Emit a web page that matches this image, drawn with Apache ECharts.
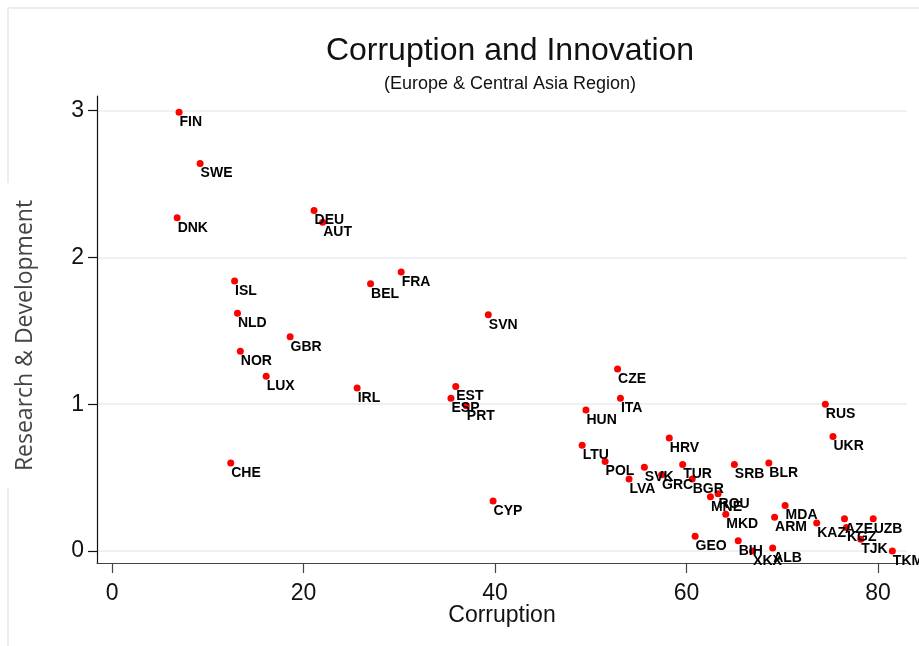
<!DOCTYPE html>
<html>
<head>
<meta charset="utf-8">
<title>Corruption and Innovation</title>
<script src="https://cdn.jsdelivr.net/npm/echarts@6/dist/echarts.min.js"></script>
<style>
  html, body { margin: 0; padding: 0; background: #fff; }
  #chart { width: 919px; height: 646px; }
</style>
</head>
<body>
<div id="chart"></div>
<script>
// Country codes (ISO3) for the Europe & Central Asia region
const countries = [
  'FIN','SWE','DNK','DEU','AUT','ISL','BEL','FRA','NLD','SVN',
  'GBR','NOR','LUX','IRL','EST','ESP','PRT','CHE','CYP','CZE',
  'ITA','HUN','RUS','UKR','LTU','HRV','POL','SVK','TUR','SRB',
  'BLR','LVA','GRC','BGR','ROU','MNE','MKD','GEO','BIH','XKX',
  'ALB','MDA','ARM','KAZ','AZE','UZB','KGZ','TJK','TKM'
];
// Corruption score (x)
const corruption = [
  7.0, 9.2, 6.8, 21.1, 22.0, 12.8, 27.0, 30.2, 13.1, 39.3,
  18.6, 13.4, 16.1, 25.6, 35.9, 35.4, 37.0, 12.4, 39.8, 52.8,
  53.1, 49.5, 74.5, 75.3, 49.1, 58.2, 51.5, 55.6, 59.6, 65.0,
  68.6, 54.0, 57.4, 60.6, 63.3, 62.5, 64.1, 60.9, 65.4, 66.9,
  69.0, 70.3, 69.2, 73.6, 76.5, 79.5, 76.7, 78.2, 81.5
];
// Research & Development expenditure (y)
const research = [
  2.99, 2.64, 2.27, 2.32, 2.24, 1.84, 1.82, 1.90, 1.62, 1.61,
  1.46, 1.36, 1.19, 1.11, 1.12, 1.04, 0.99, 0.60, 0.34, 1.24,
  1.04, 0.96, 1.00, 0.78, 0.72, 0.77, 0.61, 0.57, 0.59, 0.59,
  0.60, 0.49, 0.52, 0.49, 0.39, 0.37, 0.25, 0.10, 0.07, 0.00,
  0.02, 0.31, 0.23, 0.19, 0.22, 0.22, 0.16, 0.08, 0.00
];
// Axis tick values
const xTicks = [0, 20, 40, 60, 80];
const yTicks = [0, 1, 2, 3];

const points = countries.map((c, i) => ({ name: c, value: [corruption[i], research[i]] }));

const chart = echarts.init(document.getElementById('chart'), null, { renderer: 'canvas' });

const gridColor = '#e5edf0';
const frameColor = '#e8eef1';

chart.setOption({
  animation: false,
  backgroundColor: '#ffffff',
  title: [
    {
      text: 'Corruption and Innovation',
      left: 505, top: 30, textAlign: 'center',
      textStyle: { fontFamily: 'Liberation Sans', fontSize: 32, fontWeight: 'normal', color: '#111' }
    },
    {
      text: '(Europe & Central Asia Region)',
      left: 505, top: 70, textAlign: 'center',
      textStyle: { fontFamily: 'Liberation Sans', fontSize: 18, fontWeight: 'normal', color: '#111' }
    }
  ],
  graphic: [
    { type: 'line', silent: true, shape: { x1: 8, y1: 8, x2: 919, y2: 8 }, style: { stroke: frameColor, lineWidth: 2 } },
    { type: 'line', silent: true, shape: { x1: 8, y1: 8, x2: 8, y2: 183 }, style: { stroke: frameColor, lineWidth: 2 } },
    { type: 'line', silent: true, shape: { x1: 8, y1: 488, x2: 8, y2: 646 }, style: { stroke: frameColor, lineWidth: 2 } }
  ],
  grid: { left: 97, right: 12, top: 96, bottom: 83, containLabel: false },
  xAxis: {
    type: 'value',
    min: -1.57, max: 83.03,
    name: 'Corruption',
    nameLocation: 'middle',
    nameGap: 41,
    nameMoveOverlap: false,
    nameTextStyle: { fontFamily: 'Liberation Sans', fontSize: 23, color: '#111' },
    axisLine: { show: true, onZero: false, lineStyle: { color: '#444', width: 1.2 } },
    axisTick: { show: true, length: 10, customValues: xTicks, lineStyle: { color: '#444', width: 1.2 } },
    axisLabel: { customValues: xTicks, margin: 19, fontFamily: 'Liberation Sans', fontSize: 23, color: '#111' },
    splitLine: { show: false }
  },
  yAxis: {
    type: 'value',
    min: -0.082, max: 3.1,
    name: 'Research & Development',
    nameLocation: 'middle',
    nameRotate: 90,
    nameGap: 60,
    nameTextStyle: { fontFamily: 'Open Sans', fontSize: 23, color: '#444', padding: [0, 12, 0, 0] },
    axisLine: { show: true, onZero: false, lineStyle: { color: '#111', width: 1.2 } },
    axisTick: { show: true, length: 9, customValues: yTicks, lineStyle: { color: '#111', width: 1.2 } },
    axisLabel: { customValues: yTicks, margin: 13, fontFamily: 'Liberation Sans', fontSize: 23, color: '#111' },
    splitLine: { show: false }
  },
  series: [
    {
      type: 'scatter',
      data: points,
      symbol: 'circle',
      symbolSize: 7,
      itemStyle: { color: '#ff0000', opacity: 1 },
      label: {
        show: true,
        formatter: p => p.name,
        // text sits below-right of each marker
        position: [4, 13.5],
        align: 'left',
        verticalAlign: 'middle',
        fontFamily: 'Liberation Sans',
        fontWeight: 'bold',
        fontSize: 14,
        color: '#000'
      },
      labelLayout: { hideOverlap: false },
      markLine: {
        silent: true,
        symbol: 'none',
        label: { show: false },
        z: 0,
        lineStyle: { color: gridColor, width: 1.6, type: 'solid' },
        data: yTicks.map(v => ({ yAxis: v }))
      },
      z: 3
    }
  ]
});
</script>
</body>
</html>
